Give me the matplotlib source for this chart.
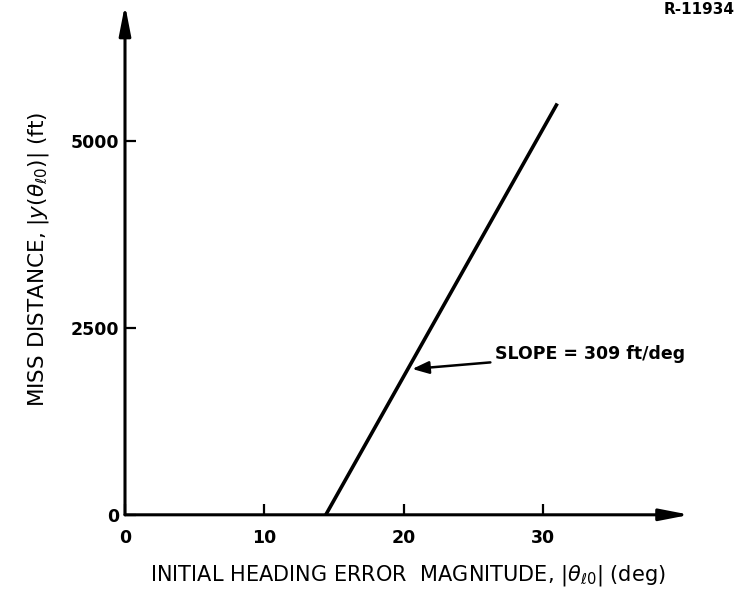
import matplotlib
matplotlib.use("Agg")
import matplotlib.pyplot as plt

# data
heading_err = [14.4, 31.0]          # deg
miss_dist = [0, 5500]               # ft
x_ticks = [0, 10, 20, 30]
y_ticks = [0, 2500, 5000]
y_tick_labels = ["0", "2500", "5000"]
slope_text = "SLOPE = 309 ft/deg"
slope_point = (20.6, 1950)
slope_text_pos = (26.5, 2150)

plt.rcParams['font.family'] = ['DejaVu Sans']
fig = plt.figure(figsize=(7.53, 6.0), dpi=100)
ax = fig.add_axes([0.166, 0.142, 0.75, 0.85])
ax.set_xlim(0, 40.5)
ax.set_ylim(0, 6820)

for s in ax.spines.values():
    s.set_visible(False)

# axis arrows
ax.annotate("", xy=(1.0, 0), xytext=(0, 0), xycoords="axes fraction",
            arrowprops=dict(arrowstyle="-|>,head_length=1.8,head_width=0.35",
                            color="black", lw=2.2, shrinkA=0, shrinkB=0))
ax.annotate("", xy=(0, 1.0), xytext=(0, 0), xycoords="axes fraction",
            arrowprops=dict(arrowstyle="-|>,head_length=1.8,head_width=0.35",
                            color="black", lw=2.2, shrinkA=0, shrinkB=0))

ax.plot(heading_err, miss_dist, color="black", lw=2.6, solid_capstyle="butt")

ax.set_xticks(x_ticks)
ax.set_xticklabels([str(t) for t in x_ticks], fontsize=12.5, fontweight="bold")
ax.set_yticks(y_ticks)
ax.set_yticklabels(y_tick_labels, fontsize=12.5, fontweight="bold")
ax.tick_params(axis="both", direction="in", length=8, width=1.6, color="black")
ax.tick_params(axis="x", pad=10)
ax.tick_params(axis="y", pad=4)

ax.annotate(slope_text, xy=slope_point, xytext=slope_text_pos,
            fontsize=12.5, fontweight="bold", va="center", ha="left",
            arrowprops=dict(arrowstyle="-|>,head_length=0.8,head_width=0.3",
                            color="black", lw=1.8, shrinkA=1, shrinkB=0))

ax.set_xlabel(r"INITIAL HEADING ERROR  MAGNITUDE, $|\theta_{\ell 0}|$ (deg)",
              fontsize=15, labelpad=12)
ax.set_ylabel(r"MISS DISTANCE, $|y(\theta_{\ell 0})|$ (ft)", fontsize=15.5, labelpad=14)

fig.text(0.975, 0.985, "R-11934", fontsize=11, fontweight="bold", ha="right", va="center")

fig.savefig("out.png", dpi=100)
